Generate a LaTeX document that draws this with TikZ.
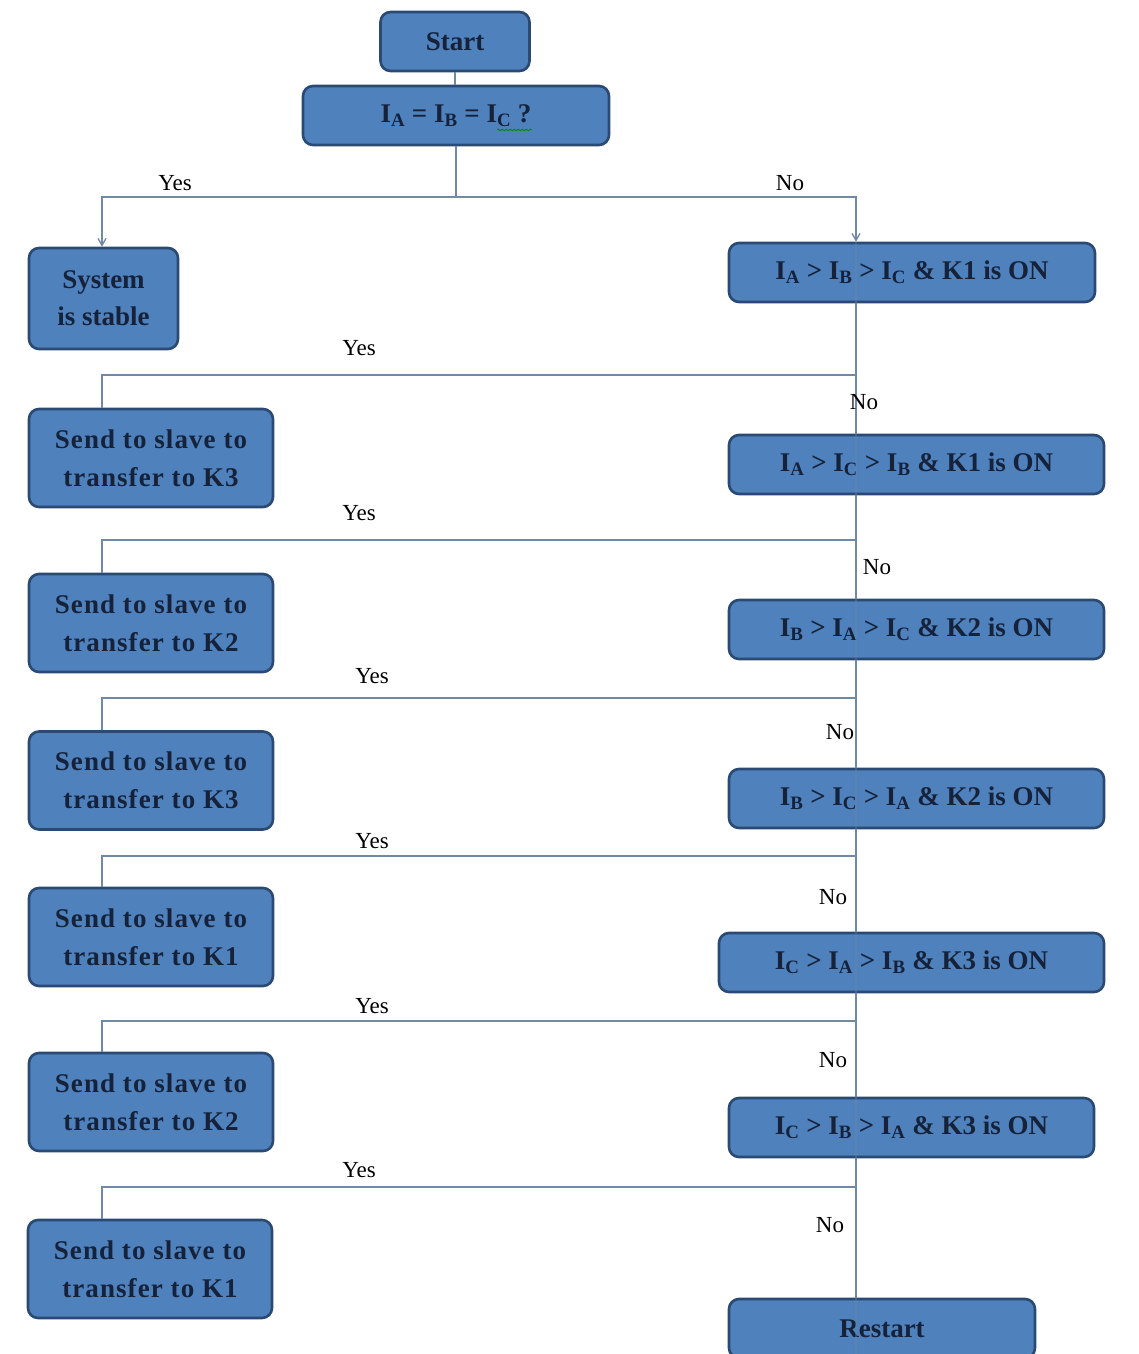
\documentclass[tikz,border=0pt]{standalone}
\usepackage{fontspec}
\setmainfont{Liberation Serif}
\newfontfamily\spaced[LetterSpace=4]{Liberation Serif}
\usetikzlibrary{arrows.meta,decorations.pathmorphing}
\definecolor{boxfill}{HTML}{4F81BD}
\definecolor{boxline}{HTML}{2A4A73}
\definecolor{boxtext}{HTML}{15223A}
\definecolor{conn}{HTML}{7089A6}
\newcommand{\cur}[1]{I\textsubscript{#1}}
\tikzset{
  fbox/.style={draw=boxline, line width=2.6pt, fill=boxfill, rounded corners=10pt,
    text=boxtext, font=\fontsize{27}{37}\selectfont\bfseries, align=center,
    inner sep=0pt, minimum height=59pt},
  wide/.style={fbox, minimum height=98pt, minimum width=244pt,
    font=\spaced\fontsize{27}{38}\selectfont\bfseries},
  conline/.style={draw=conn, line width=1.3pt},
  arr/.style={conline, -{Straight Barb[length=7pt,width=8pt]}},
  lbl/.style={font=\fontsize{23}{26}\selectfont, text=black, inner sep=0pt},
}
\begin{document}
\begin{tikzpicture}[x=1pt,y=-1pt]
\clip (0,0) rectangle (1139,1354);
\fill[white] (0,0) rectangle (1139,1354);
\coordinate (T) at (856,0);
\coordinate (L) at (102,0);
% nodes
\node[fbox, minimum width=149pt] (start) at (455,41.5) {Start};
\node[fbox, minimum width=306pt] (q0) at (456,115.5) {\cur{A} = \cur{B} = \cur{C} ?};
\node[fbox, minimum width=149pt, minimum height=101pt] (stable) at (103.5,298.5) {System\\is stable};
\node[fbox, minimum width=366pt] (c1) at (912,272.5) {\cur{A} > \cur{B} > \cur{C} \& K1 is ON};
\node[fbox, minimum width=375pt] (c2) at (916.5,464.5) {\cur{A} > \cur{C} > \cur{B} \& K1 is ON};
\node[fbox, minimum width=375pt] (c3) at (916.5,629.5) {\cur{B} > \cur{A} > \cur{C} \& K2 is ON};
\node[fbox, minimum width=375pt] (c4) at (916.5,798.5) {\cur{B} > \cur{C} > \cur{A} \& K2 is ON};
\node[fbox, minimum width=385pt] (c5) at (911.5,962.5) {\cur{C} > \cur{A} > \cur{B} \& K3 is ON};
\node[fbox, minimum width=365pt] (c6) at (911.5,1127.5) {\cur{C} > \cur{B} > \cur{A} \& K3 is ON};
\node[fbox, minimum width=306pt] (restart) at (882,1328.5) {Restart};
\node[wide] (s1) at (151,458) {Send to slave to\\transfer to K3};
\node[wide] (s2) at (151,623) {Send to slave to\\transfer to K2};
\node[wide] (s3) at (151,780.5) {Send to slave to\\transfer to K3};
\node[wide] (s4) at (151,937) {Send to slave to\\transfer to K1};
\node[wide] (s5) at (151,1102) {Send to slave to\\transfer to K2};
\node[wide] (s6) at (150,1269) {Send to slave to\\transfer to K1};
% spell-check squiggle
\draw[green!55!black, line width=0.8pt, decorate, decoration={snake, amplitude=0.9pt, segment length=4pt}]
  (497,130) -- (532,130);
% connectors
\coordinate (split) at (456,197);
\draw[conline] (start.south) -- (start.south |- q0.north);
\draw[conline] (q0.south) -- (split);
\draw[arr] (split) -| (stable.north -| L);
\draw[arr] (split) -| (c1.north -| T);
% faint trunk showing through the boxes
\draw[conline, opacity=0.35] (c1.north -| T) -- (restart.south -| T);
\draw[conline] (c1.south -| T) -- (c2.north -| T);
\draw[conline] (c2.south -| T) -- (c3.north -| T);
\draw[conline] (c3.south -| T) -- (c4.north -| T);
\draw[conline] (c4.south -| T) -- (c5.north -| T);
\draw[conline] (c5.south -| T) -- (c6.north -| T);
\draw[conline] (c6.south -| T) -- (restart.north -| T);
\coordinate (y1) at (856,375);
\coordinate (y2) at (856,540);
\coordinate (y3) at (856,698);
\coordinate (y4) at (856,856);
\coordinate (y5) at (856,1021);
\coordinate (y6) at (856,1187);
\draw[conline] (y1) -| (s1.north -| L);
\draw[conline] (y2) -| (s2.north -| L);
\draw[conline] (y3) -| (s3.north -| L);
\draw[conline] (y4) -| (s4.north -| L);
\draw[conline] (y5) -| (s5.north -| L);
\draw[conline] (y6) -| (s6.north -| L);
% labels
\node[lbl] (ly0) at (175,183) {Yes};
\node[lbl] (ln0) at (790,183) {No};
\node[lbl] (ly1) at (359,348) {Yes};
\node[lbl] (ln1) at (864,402) {No};
\node[lbl] (ly2) at (359,513) {Yes};
\node[lbl] (ln2) at (877,567) {No};
\node[lbl] (ly3) at (372,676) {Yes};
\node[lbl] (ln3) at (840,732) {No};
\node[lbl] (ly4) at (372,841) {Yes};
\node[lbl] (ln4) at (833,897) {No};
\node[lbl] (ly5) at (372,1006) {Yes};
\node[lbl] (ln5) at (833,1060) {No};
\node[lbl] (ly6) at (359,1170) {Yes};
\node[lbl] (ln6) at (830,1225) {No};
\end{tikzpicture}
\end{document}
